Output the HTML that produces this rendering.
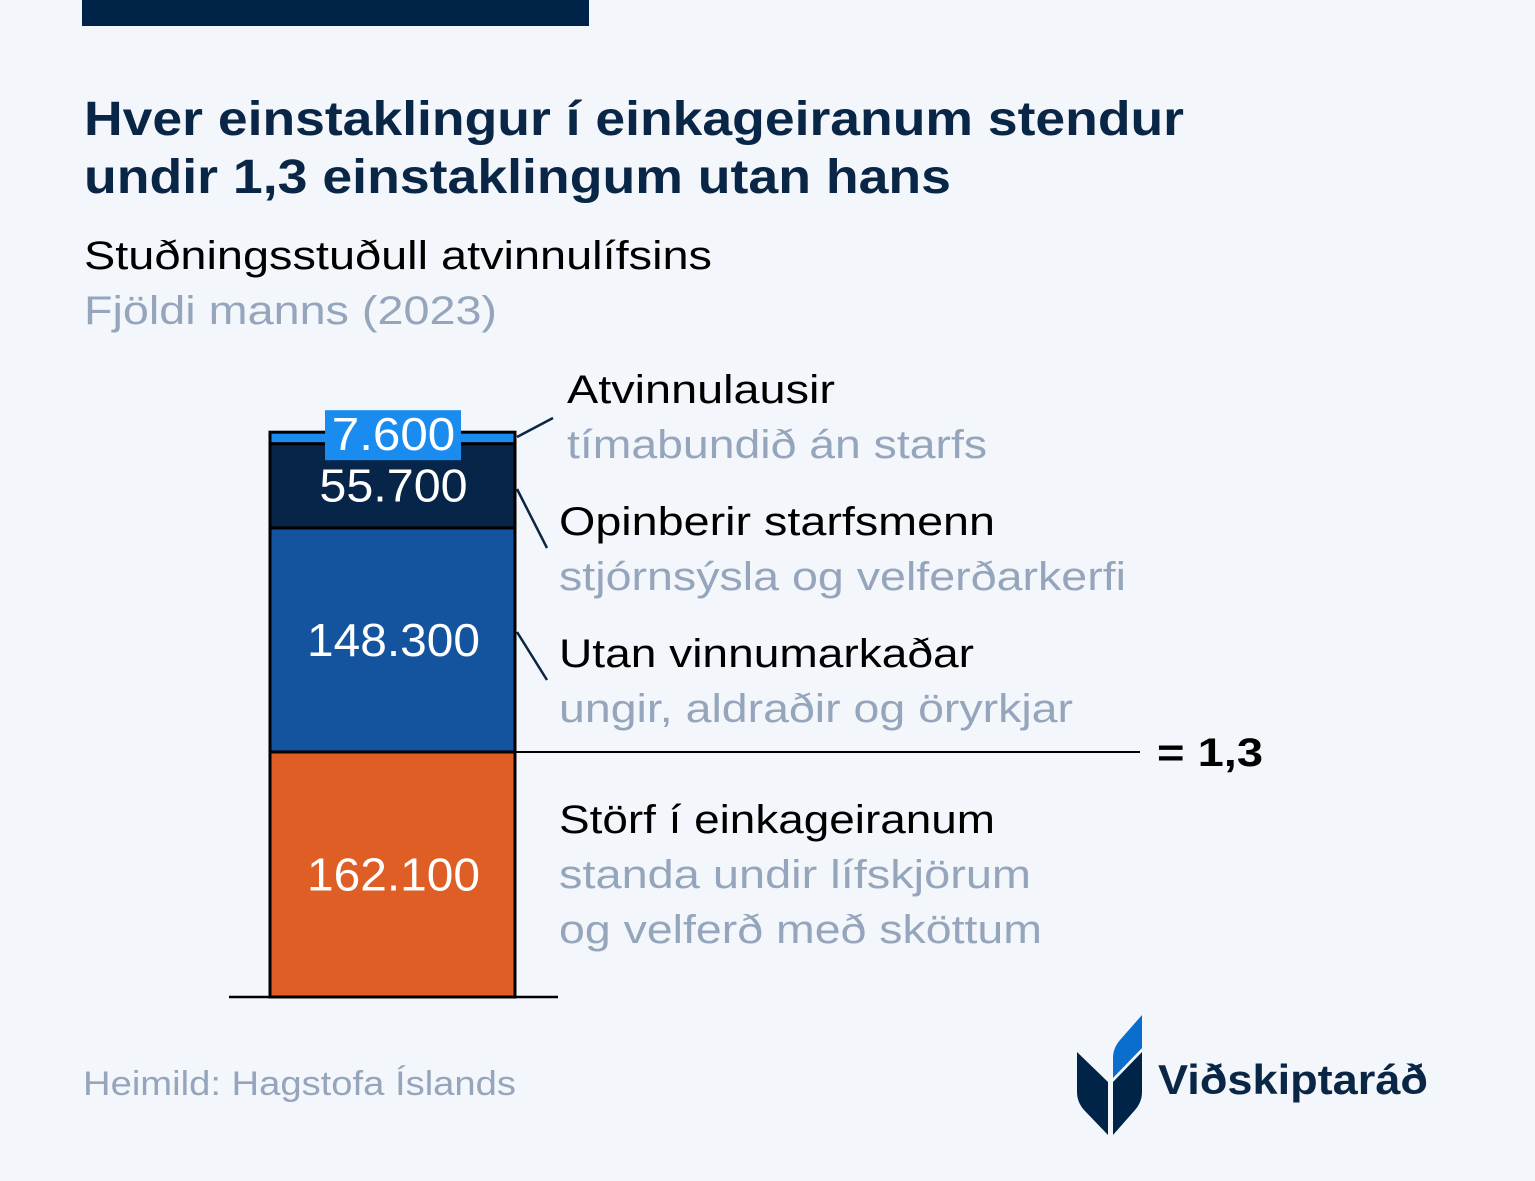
<!DOCTYPE html>
<html><head><meta charset="utf-8"><style>
html,body{margin:0;padding:0;background:#f3f6fb;}
svg{display:block;font-family:"Liberation Sans",sans-serif;}
</style></head><body>
<svg id="c" width="1535" height="1181" viewBox="0 0 1535 1181">
<rect x="0" y="0" width="1535" height="1181" fill="#f3f6fb"/>
<rect x="82" y="0" width="507" height="26" fill="#002447"/>
<text x="84" y="135" font-size="48" font-weight="bold" fill="#0a2646" textLength="1100" lengthAdjust="spacingAndGlyphs">Hver einstaklingur í einkageiranum stendur</text>
<text x="84" y="193" font-size="48" font-weight="bold" fill="#0a2646" textLength="867" lengthAdjust="spacingAndGlyphs">undir 1,3 einstaklingum utan hans</text>
<text x="84" y="269" font-size="40" fill="#000" textLength="628" lengthAdjust="spacingAndGlyphs">Stuðningsstuðull atvinnulífsins</text>
<text x="84" y="324" font-size="40" fill="#95a5bc" textLength="413" lengthAdjust="spacingAndGlyphs">Fjöldi manns (2023)</text>
<g id="bars"></g>
<line x1="229" y1="997" x2="558" y2="997" stroke="#000" stroke-width="2.5"/>
<line x1="515" y1="752" x2="1140" y2="752" stroke="#000" stroke-width="2"/>
<text x="1157" y="766" font-size="40" font-weight="bold" fill="#000" textLength="106" lengthAdjust="spacingAndGlyphs">= 1,3</text>
<line x1="517" y1="437" x2="553" y2="418" stroke="#0a2646" stroke-width="2.5"/>
<line x1="517" y1="489" x2="547" y2="548" stroke="#0a2646" stroke-width="2.5"/>
<line x1="517" y1="632" x2="547" y2="680" stroke="#0a2646" stroke-width="2.5"/>
<g font-size="40">
<text x="567" y="403" fill="#000" textLength="268" lengthAdjust="spacingAndGlyphs">Atvinnulausir</text>
<text x="567" y="458" fill="#95a5bc" textLength="420" lengthAdjust="spacingAndGlyphs">tímabundið án starfs</text>
<text x="559" y="535" fill="#000" textLength="436" lengthAdjust="spacingAndGlyphs">Opinberir starfsmenn</text>
<text x="559" y="590" fill="#95a5bc" textLength="567" lengthAdjust="spacingAndGlyphs">stjórnsýsla og velferðarkerfi</text>
<text x="559" y="667" fill="#000" textLength="415" lengthAdjust="spacingAndGlyphs">Utan vinnumarkaðar</text>
<text x="559" y="722" fill="#95a5bc" textLength="514" lengthAdjust="spacingAndGlyphs">ungir, aldraðir og öryrkjar</text>
<text x="559" y="833" fill="#000" textLength="436" lengthAdjust="spacingAndGlyphs">Störf í einkageiranum</text>
<text x="559" y="888" fill="#95a5bc" textLength="472" lengthAdjust="spacingAndGlyphs">standa undir lífskjörum</text>
<text x="559" y="943" fill="#95a5bc" textLength="483" lengthAdjust="spacingAndGlyphs">og velferð með sköttum</text>
</g>
<text x="83" y="1095" font-size="34" fill="#95a5bc" textLength="433" lengthAdjust="spacingAndGlyphs">Heimild: Hagstofa Íslands</text>
<g>
<path d="M1077 1052 L1108 1082 L1108 1135 L1084 1110 Q1077 1102 1077 1092 Z" fill="#002447"/>
<path d="M1113 1082 L1142 1052 L1142 1092 Q1142 1102 1135 1110 L1113 1135 Z" fill="#002447"/>
<path d="M1113 1078 L1142 1048 L1142 1015 L1120 1040 Q1113 1048 1113 1058 Z" fill="#0a6fcc"/>
<text x="1158" y="1094" font-size="42" font-weight="bold" fill="#0a2646" textLength="270" lengthAdjust="spacingAndGlyphs">Viðskiptaráð</text>
</g>
</svg>
<script>
const categories = ["Störf í einkageiranum","Utan vinnumarkaðar","Opinberir starfsmenn","Atvinnulausir"];
const values = [162100,148300,55700,7600];
const valueLabels = ["162.100","148.300","55.700","7.600"];
const colors = ["#df5e26","#14539d","#062548","#1a8cef"];
const baseY = 997, pxPer = 245/162100, x0 = 270, w = 245;
function y(v){ return baseY - v*pxPer; }
const ns="http://www.w3.org/2000/svg", g=document.getElementById('bars');
let cum=0; const tops=[];
values.forEach((v,i)=>{
  const y1=y(cum+v), y0=y(cum);
  const r=document.createElementNS(ns,'rect');
  r.setAttribute('x',x0); r.setAttribute('y',y1); r.setAttribute('width',w); r.setAttribute('height',y0-y1);
  r.setAttribute('fill',colors[i]); r.setAttribute('stroke','#000'); r.setAttribute('stroke-width','3');
  
  
  g.appendChild(r); tops.push([y1,y0]); cum+=v;
});
values.forEach((v,i)=>{
  const [y1,y0]=tops[i];
  let ty=(y1+y0)/2+16;
  const tl=valueLabels[i].length*24.7;
  if(i===3){
    ty=y1+18;
    const bg=document.createElementNS(ns,'rect');
    bg.setAttribute('x',325); bg.setAttribute('y',ty-40); bg.setAttribute('width',136); bg.setAttribute('height',50);
    bg.setAttribute('fill','#1a8cef');
    
    
    g.appendChild(bg);
  }
  if(i===2) ty=y1+58;
  const t=document.createElementNS(ns,'text');
  t.setAttribute('x',x0+w/2+1); t.setAttribute('y',ty); t.setAttribute('text-anchor','middle');
  t.setAttribute('font-size','46'); t.setAttribute('fill','#fff');
  t.setAttribute('textLength',tl); t.setAttribute('lengthAdjust','spacingAndGlyphs');
  t.textContent=valueLabels[i];
  
  
  g.appendChild(t);
});
</script>
</body></html>
